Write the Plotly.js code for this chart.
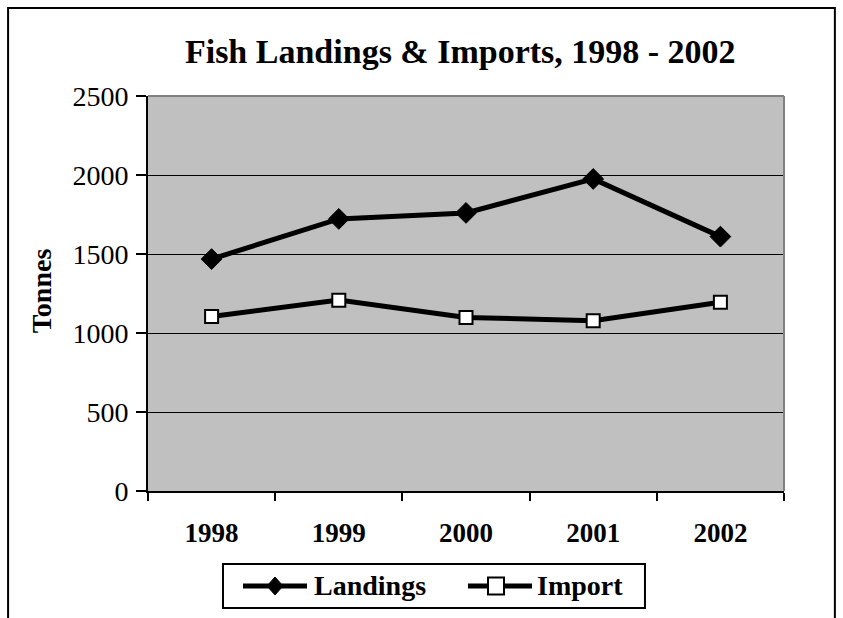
<!DOCTYPE html>
<html>
<head>
<meta charset="utf-8">
<script src="https://cdn.plot.ly/plotly-3.0.1.min.js"></script>
<style>html,body{margin:0;padding:0;background:#fff;}#chart{width:843px;height:618px;}</style>
</head>
<body>
<div id="chart"></div>
<script>
const years = ["1998", "1999", "2000", "2001", "2002"];
const landings = [1468, 1722, 1760, 1975, 1610];
const imports = [1105, 1208, 1098, 1078, 1195];
const yTicks = [0, 500, 1000, 1500, 2000, 2500];
const seriesNames = ["Landings", "Import"];

const font = "'Liberation Serif', 'Times New Roman', serif";

const traces = [
  {
    x: years, y: landings, name: seriesNames[0], type: "scatter", mode: "lines+markers",
    line: {color: "#000", width: 5},
    marker: {symbol: "diamond", size: 16, color: "#000", line: {color: "#000", width: 1}}
  },
  {
    x: years, y: imports, name: seriesNames[1], type: "scatter", mode: "lines+markers",
    line: {color: "#000", width: 5},
    marker: {symbol: "square", size: 13, color: "#fff", line: {color: "#000", width: 2}}
  }
];

// legend (drawn as shapes + text in paper coordinates)
const legY = -0.2405;
const legendShapes = [
  {type: "rect", xref: "paper", yref: "paper", x0: 0.1179, x1: 0.7814, y0: -0.2962, y1: -0.1848,
   line: {color: "#000", width: 2}, fillcolor: "#fff"},
  {type: "line", xref: "paper", yref: "paper", x0: 0.1494, x1: 0.2500, y0: legY, y1: legY,
   line: {color: "#000", width: 5}},
  {type: "path", xref: "paper", yref: "paper", xsizemode: "pixel", ysizemode: "pixel",
   xanchor: 0.1997, yanchor: legY, path: "M -8 0 L 0 9 L 8 0 L 0 -9 Z",
   line: {color: "#000", width: 1}, fillcolor: "#000"},
  {type: "line", xref: "paper", yref: "paper", x0: 0.5031, x1: 0.6038, y0: legY, y1: legY,
   line: {color: "#000", width: 5}},
  {type: "rect", xref: "paper", yref: "paper", xsizemode: "pixel", ysizemode: "pixel",
   xanchor: 0.5472, yanchor: legY, x0: -8, x1: 8, y0: -8.5, y1: 8.5,
   line: {color: "#000", width: 2}, fillcolor: "#fff"}
];

const layout = {
  width: 843, height: 618,
  margin: {l: 148, r: 59, t: 96, b: 127, autoexpand: false},
  paper_bgcolor: "#fff",
  plot_bgcolor: "#c0c0c0",
  font: {family: font, color: "#000"},
  showlegend: false,
  title: {
    text: "<b>Fish Landings &amp; Imports, 1998 - 2002</b>",
    font: {family: font, size: 34, color: "#000"},
    x: 0.546, xref: "container", xanchor: "center",
    y: 0.918, yref: "container", yanchor: "middle"
  },
  xaxis: {
    type: "category",
    range: [-0.5, 4.5],
    tickson: "boundaries",
    ticks: "outside", ticklen: 8, tickwidth: 2, tickcolor: "#000",
    showline: true, linecolor: "#000", linewidth: 2,
    showgrid: false, zeroline: false,
    tickfont: {family: font, size: 27, color: "#000"},
    ticklabelstandoff: 17,
    tickvals: years,
    ticktext: years.map(y => "<b>" + y + "</b>")
  },
  yaxis: {
    range: [0, 2500],
    tickvals: yTicks,
    ticks: "outside", ticklen: 10, tickwidth: 2, tickcolor: "#000",
    showline: true, linecolor: "#000", linewidth: 2,
    showgrid: true, gridcolor: "#000", gridwidth: 1,
    zeroline: false,
    tickfont: {family: font, size: 28, color: "#000"},
    ticklabelstandoff: 2
  },
  annotations: [
    {
      text: "<b>Tonnes</b>", xref: "paper", yref: "paper",
      x: -0.168, y: 0.506, xanchor: "center", yanchor: "middle",
      textangle: -90, showarrow: false,
      font: {family: font, size: 28, color: "#000"}
    },
    {
      text: "<b>" + seriesNames[0] + "</b>", xref: "paper", yref: "paper",
      x: 0.2579, y: legY, xanchor: "left", yanchor: "middle", showarrow: false,
      font: {family: font, size: 28, color: "#000"}
    },
    {
      text: "<b>" + seriesNames[1] + "</b>", xref: "paper", yref: "paper",
      x: 0.6085, y: legY, xanchor: "left", yanchor: "middle", showarrow: false,
      font: {family: font, size: 28, color: "#000"}
    }
  ],
  shapes: [
    {type: "line", xref: "paper", yref: "paper", x0: 0, x1: 1, y0: 1, y1: 1, line: {color: "#808080", width: 2}},
    {type: "line", xref: "paper", yref: "paper", x0: 1, x1: 1, y0: 0, y1: 1, line: {color: "#808080", width: 2}},
    {type: "rect", xref: "paper", yref: "paper", x0: -0.22, x1: 1.08, y0: -0.4, y1: 1.223, line: {color: "#000", width: 2}, fillcolor: "rgba(0,0,0,0)", layer: "below"}
  ].concat(legendShapes)
};

Plotly.newPlot("chart", traces, layout, {displayModeBar: false, staticPlot: true});
</script>
</body>
</html>
